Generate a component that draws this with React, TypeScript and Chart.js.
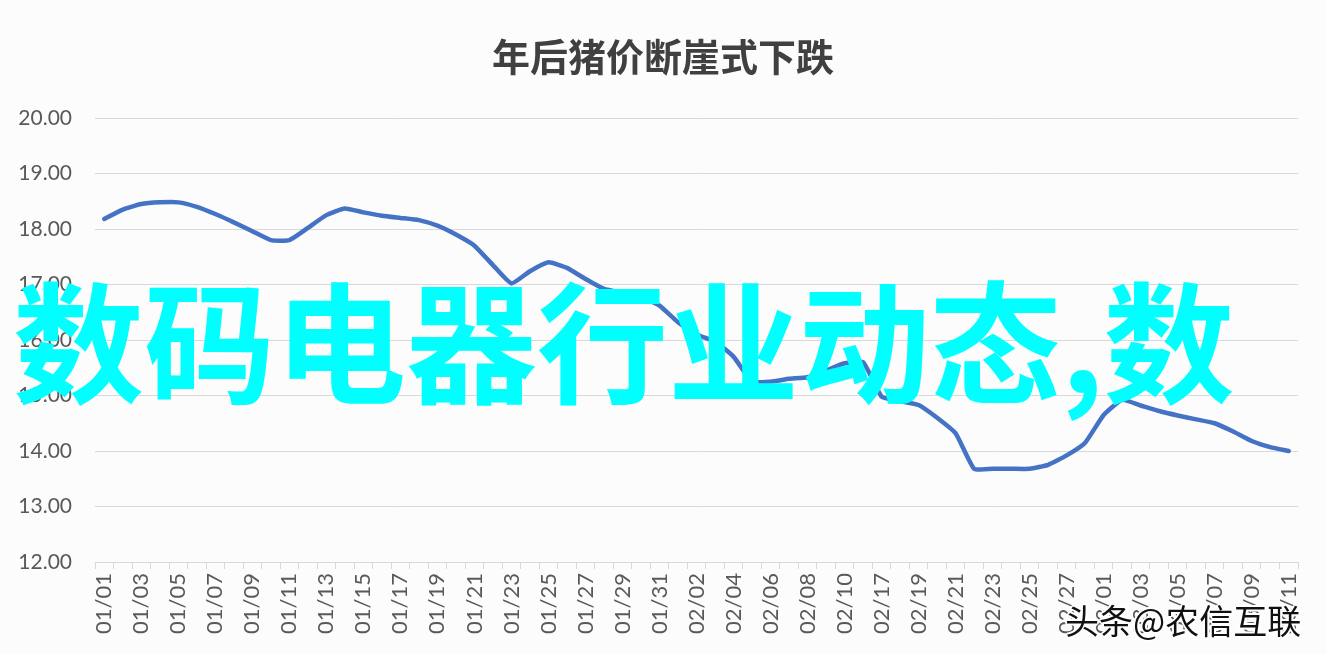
import React, { useEffect, useRef } from "react";
import { Chart, registerables } from "chart.js";

Chart.register(...registerables);

const TITLE = "年后猪价断崖式下跌";
const OVERLAY_TEXT = "数码电器行业动态,数";
const WATERMARK = "头条@农信互联";

const CATEGORIES = [
  "01/01", "01/02", "01/03", "01/04", "01/05", "01/06", "01/07", "01/08", "01/09", "01/10",
  "01/11", "01/12", "01/13", "01/14", "01/15", "01/16", "01/17", "01/18", "01/19", "01/20",
  "01/21", "01/22", "01/23", "01/24", "01/25", "01/26", "01/27", "01/28", "01/29", "01/30",
  "01/31", "02/01", "02/02", "02/03", "02/04", "02/05", "02/06", "02/07", "02/08", "02/09",
  "02/10", "02/11", "02/17", "02/18", "02/19", "02/20", "02/21", "02/22", "02/23", "02/24",
  "02/25", "02/26", "02/27", "02/28", "03/01", "03/02", "03/03", "03/04", "03/05", "03/06",
  "03/07", "03/08", "03/09", "03/10", "03/11",
];

const PRICES = [
  18.18, 18.35, 18.45, 18.48, 18.48, 18.40, 18.27, 18.12, 17.96, 17.80,
  17.80, 18.02, 18.25, 18.37, 18.30, 18.24, 18.20, 18.16, 18.06, 17.90,
  17.70, 17.35, 17.02, 17.24, 17.40, 17.30, 17.10, 16.92, 16.85, 16.78,
  16.62, 16.32, 16.10, 15.97, 15.70, 15.25, 15.25, 15.30, 15.33, 15.45,
  15.58, 15.60, 14.98, 14.90, 14.83, 14.60, 14.32, 13.68, 13.68, 13.68,
  13.68, 13.75, 13.92, 14.15, 14.65, 14.92, 14.82, 14.72, 14.64, 14.57,
  14.50, 14.35, 14.18, 14.07, 14.00,
];

const Y_MIN = 12;
const Y_MAX = 20;
const Y_STEP = 1;

export default function App() {
  const canvasRef = useRef<HTMLCanvasElement | null>(null);

  useEffect(() => {
    if (!canvasRef.current) return;
    const chart = new Chart(canvasRef.current, {
      type: "line",
      data: {
        labels: CATEGORIES,
        datasets: [
          {
            data: PRICES,
            borderColor: "#4472C4",
            backgroundColor: "#4472C4",
            borderWidth: 4.5,
            pointRadius: 0,
            tension: 0.15,
            borderCapStyle: "round",
            borderJoinStyle: "round",
            fill: false,
          },
        ],
      },
      options: {
        animation: false,
        responsive: false,
        maintainAspectRatio: false,
        layout: { padding: { left: 0, right: 28, top: 118, bottom: 0 } },
        plugins: {
          legend: { display: false },
          tooltip: { enabled: false },
          title: { display: false },
        },
        scales: {
          x: {
            type: "category",
            offset: true,
            grid: {
              offset: true,
              drawOnChartArea: false,
              drawTicks: true,
              tickLength: 7,
              color: "#D9D9D9",
            },
            border: { color: "#D9D9D9" },
            ticks: {
              autoSkip: false,
              minRotation: 90,
              maxRotation: 90,
              padding: 4,
              color: "#595959",
              font: { family: "Lato", size: 22 },
              callback: (_v: any, i: number) => (i % 2 === 0 ? CATEGORIES[i] : ""),
            },
            afterFit: (s: any) => {
              s.height = 92;
            },
          },
          y: {
            min: Y_MIN,
            max: Y_MAX,
            ticks: {
              stepSize: Y_STEP,
              padding: 23,
              color: "#595959",
              font: { family: "Lato", size: 21 },
              callback: (v: any) => Number(v).toFixed(2),
            },
            grid: { color: "#D9D9D9", drawTicks: false, lineWidth: 1 },
            border: { display: false },
            afterFit: (s: any) => {
              s.width = 95;
            },
          },
        },
      },
    });
    return () => chart.destroy();
  }, []);

  return (
    <div
      style={{
        position: "fixed",
        left: 0,
        top: 0,
        width: 1326,
        height: 654,
        background: "#FDFCFD",
        overflow: "hidden",
      }}
    >
      <canvas ref={canvasRef} width={1326} height={654} style={{ display: "block" }} />
      <div
        style={{
          position: "absolute",
          left: 0,
          width: 1326,
          top: 33,
          textAlign: "center",
          fontFamily: "'Noto Sans CJK SC'",
          fontWeight: 700,
          fontSize: 38,
          lineHeight: "44px",
          color: "#404040",
          whiteSpace: "nowrap",
        }}
      >
        {TITLE}
      </div>
      <div
        style={{
          position: "absolute",
          left: 13,
          top: 271,
          fontFamily: "'Noto Sans CJK SC'",
          fontWeight: 700,
          fontSize: 131,
          lineHeight: "131px",
          color: "#00FFFF",
          whiteSpace: "nowrap",
          pointerEvents: "none",
        }}
      >
        {OVERLAY_TEXT}
      </div>
      <div
        style={{
          position: "absolute",
          left: 1065,
          top: 598,
          fontFamily: "'Noto Sans CJK SC'",
          fontSize: 34,
          lineHeight: "44px",
          color: "#111111",
          whiteSpace: "nowrap",
          textShadow:
            "1px 1px 0 #fff, -1px -1px 0 #fff, 1px -1px 0 #fff, -1px 1px 0 #fff, 2px 0 0 #fff, -2px 0 0 #fff, 0 2px 0 #fff, 0 -2px 0 #fff",
          pointerEvents: "none",
        }}
      >
        {WATERMARK}
      </div>
    </div>
  );
}
